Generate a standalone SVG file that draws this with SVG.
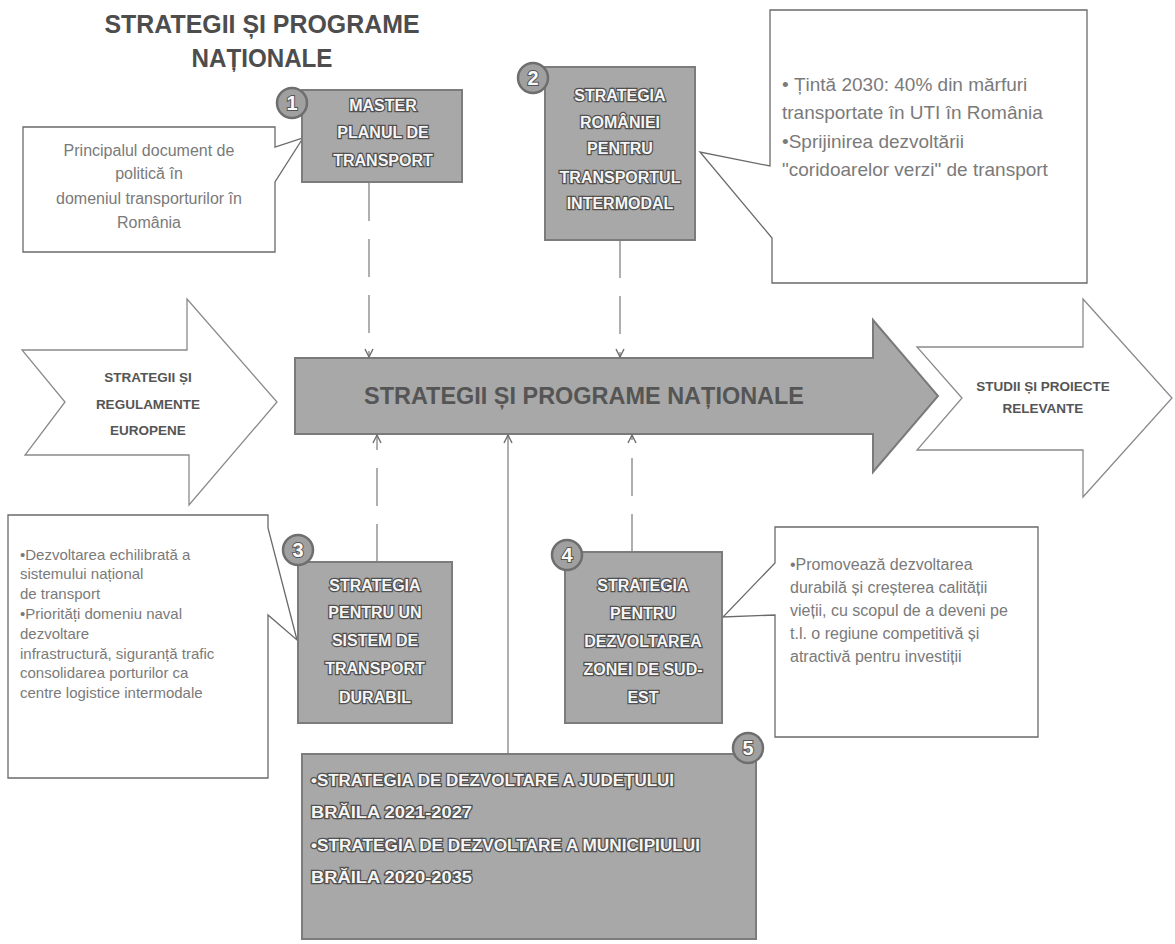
<svg xmlns="http://www.w3.org/2000/svg" width="1175" height="944" viewBox="0 0 1175 944">
<defs>
<style>
.title{font-family:"Liberation Sans",Arial,sans-serif;font-weight:bold;font-size:25px;fill:#4d4d4d;text-anchor:middle}
.box{fill:#a8a8a8;stroke:#7c7c7c;stroke-width:2}
.bt{font-family:"Liberation Sans",Arial,sans-serif;font-weight:bold;font-size:16px;fill:#f5f5f5;stroke:#505050;stroke-width:2.5;paint-order:stroke;text-anchor:middle}
.bt5{font-family:"Liberation Sans",Arial,sans-serif;font-weight:bold;font-size:16px;fill:#f5f5f5;stroke:#505050;stroke-width:2.5;paint-order:stroke}
.badge{fill:#a0a0a0;stroke:#6e6e6e;stroke-width:2.5}
.bn{font-family:"Liberation Sans",Arial,sans-serif;font-weight:bold;font-size:20px;fill:#fafafa;stroke:#555;stroke-width:2;paint-order:stroke;text-anchor:middle}
.call{fill:#ffffff;stroke:#6a6a6a;stroke-width:1.3}
.ct{font-family:"Liberation Sans",Arial,sans-serif;font-size:16px;fill:#7a7a7a}
.side{fill:#ffffff;stroke:#8a8a8a;stroke-width:1.3}
.st{font-family:"Liberation Sans",Arial,sans-serif;font-weight:bold;font-size:13.5px;fill:#555;text-anchor:middle}
.main{fill:#a8a8a8;stroke:#7a7a7a;stroke-width:2}
.mt{font-family:"Liberation Sans",Arial,sans-serif;font-weight:bold;font-size:23px;fill:#555;text-anchor:middle}
.conn{fill:none;stroke:#7a7a7a;stroke-width:1.2}
.dash{stroke-dasharray:38 18}
</style>
<marker id="arr" viewBox="0 0 10 10" refX="9" refY="5" markerWidth="10" markerHeight="10" markerUnits="userSpaceOnUse" orient="auto">
<path d="M1,1 L9,5 L1,9" fill="none" stroke="#6e6e6e" stroke-width="1.4"/>
</marker>
</defs>
<rect width="1175" height="944" fill="#ffffff"/>

<g id="title">
<text class="title" x="262" y="33" textLength="315" lengthAdjust="spacingAndGlyphs">STRATEGII ȘI PROGRAME</text>
<text class="title" x="262" y="67" textLength="141" lengthAdjust="spacingAndGlyphs">NAȚIONALE</text>
</g>

<g id="arrow-left">
<polygon class="side" points="22,350 187,350 187,299 277,402 189,505 189,455 25,455 65,402"/>
<text class="st" x="148" y="382">STRATEGII ȘI</text>
<text class="st" x="148" y="409">REGULAMENTE</text>
<text class="st" x="148" y="435">EUROPENE</text>
</g>

<g id="arrow-right">
<polygon class="side" points="917,347 1083,347 1083,299 1172,398 1083,497 1083,450 917,450 962,398"/>
<text class="st" x="1043" y="391">STUDII ȘI PROIECTE</text>
<text class="st" x="1043" y="413">RELEVANTE</text>
</g>

<g id="arrow-main">
<polygon class="main" points="295,358 873,358 873,320 938,396 873,472 873,434 295,434"/>
<text class="mt" x="584" y="404" textLength="440" lengthAdjust="spacingAndGlyphs">STRATEGII ȘI PROGRAME NAȚIONALE</text>
</g>

<g id="connectors">
<path class="conn dash" d="M369,183 V357" marker-end="url(#arr)"/>
<path class="conn dash" d="M620,240 V357" marker-end="url(#arr)"/>
<path class="conn dash" d="M377,562 V435" marker-end="url(#arr)"/>
<path class="conn" d="M508,754 V435" marker-end="url(#arr)"/>
<path class="conn dash" d="M632,552 V435" marker-end="url(#arr)"/>
</g>

<g id="callout-1">
<path class="call" d="M23,127 H275 V147 L303,138 L275,182 V252 H23 Z"/>
<text class="ct" x="149" y="156" text-anchor="middle">Principalul document de</text>
<text class="ct" x="149" y="179" text-anchor="middle">politică în</text>
<text class="ct" x="149" y="204" text-anchor="middle">domeniul transporturilor în</text>
<text class="ct" x="149" y="228" text-anchor="middle">România</text>
</g>

<g id="node-1">
<rect class="box" x="302" y="90" width="160" height="92"/>
<text class="bt" x="383" y="111">MASTER</text>
<text class="bt" x="383" y="138">PLANUL DE</text>
<text class="bt" x="383" y="166">TRANSPORT</text>
<circle class="badge" cx="292" cy="103" r="15"/>
<text class="bn" x="292" y="110">1</text>
</g>

<g id="callout-2">
<path class="call" d="M770,10 H1087 V283 H772 V238 L700,152 L770,166 Z"/>
<text class="ct" x="782" y="91" style="font-size:19px">• Țintă 2030: 40% din mărfuri</text>
<text class="ct" x="782" y="119" style="font-size:19px">transportate în UTI în România</text>
<text class="ct" x="782" y="148" style="font-size:19px">•Sprijinirea dezvoltării</text>
<text class="ct" x="782" y="176" style="font-size:19px">"coridoarelor verzi" de transport</text>
</g>

<g id="node-2">
<rect class="box" x="545" y="67" width="150" height="173"/>
<text class="bt" x="620" y="101">STRATEGIA</text>
<text class="bt" x="620" y="128">ROMÂNIEI</text>
<text class="bt" x="620" y="154">PENTRU</text>
<text class="bt" x="620" y="183">TRANSPORTUL</text>
<text class="bt" x="620" y="209">INTERMODAL</text>
<circle class="badge" cx="533" cy="78" r="15"/>
<text class="bn" x="533" y="85">2</text>
</g>

<g id="callout-3">
<path class="call" d="M8,515 H268 V528 L297,640 L268,615 V778 H8 Z"/>
<text class="ct" x="20" y="560" style="font-size:15px">•Dezvoltarea echilibrată a</text>
<text class="ct" x="20" y="579" style="font-size:15px">sistemului național</text>
<text class="ct" x="20" y="599" style="font-size:15px">de transport</text>
<text class="ct" x="20" y="619" style="font-size:15px">•Priorități domeniu naval</text>
<text class="ct" x="20" y="639" style="font-size:15px">dezvoltare</text>
<text class="ct" x="20" y="659" style="font-size:15px">infrastructură, siguranță trafic</text>
<text class="ct" x="20" y="678" style="font-size:15px">consolidarea porturilor ca</text>
<text class="ct" x="20" y="698" style="font-size:15px">centre logistice intermodale</text>
</g>

<g id="node-3">
<rect class="box" x="298" y="562" width="154" height="161"/>
<text class="bt" x="375" y="591">STRATEGIA</text>
<text class="bt" x="375" y="618">PENTRU UN</text>
<text class="bt" x="375" y="646">SISTEM DE</text>
<text class="bt" x="375" y="674">TRANSPORT</text>
<text class="bt" x="375" y="703">DURABIL</text>
<circle class="badge" cx="298" cy="550" r="15"/>
<text class="bn" x="298" y="557">3</text>
</g>

<g id="callout-4">
<path class="call" d="M775,527 H1038 V737 H775 V615 L723,617 L775,563 Z"/>
<text class="ct" x="790" y="570">•Promovează dezvoltarea</text>
<text class="ct" x="790" y="593">durabilă și creșterea calității</text>
<text class="ct" x="790" y="616">vieții, cu scopul de a deveni pe</text>
<text class="ct" x="790" y="639">t.l. o regiune competitivă și</text>
<text class="ct" x="790" y="662">atractivă pentru investiții</text>
</g>

<g id="node-4">
<rect class="box" x="565" y="552" width="157" height="171"/>
<text class="bt" x="643" y="591">STRATEGIA</text>
<text class="bt" x="643" y="619">PENTRU</text>
<text class="bt" x="643" y="647">DEZVOLTAREA</text>
<text class="bt" x="643" y="675">ZONEI DE SUD-</text>
<text class="bt" x="643" y="703">EST</text>
<circle class="badge" cx="567" cy="555" r="15"/>
<text class="bn" x="567" y="562">4</text>
</g>

<g id="node-5">
<rect class="box" x="302" y="754" width="454" height="185"/>
<text class="bt5" x="311" y="786" textLength="363" lengthAdjust="spacingAndGlyphs">•STRATEGIA DE DEZVOLTARE A JUDEȚULUI</text>
<text class="bt5" x="311" y="818" textLength="161" lengthAdjust="spacingAndGlyphs">BRĂILA 2021-2027</text>
<text class="bt5" x="311" y="851" textLength="389" lengthAdjust="spacingAndGlyphs">•STRATEGIA DE DEZVOLTARE A MUNICIPIULUI</text>
<text class="bt5" x="311" y="883" textLength="161" lengthAdjust="spacingAndGlyphs">BRĂILA 2020-2035</text>
<circle class="badge" cx="748" cy="748" r="15"/>
<text class="bn" x="748" y="755">5</text>
</g>
</svg>
